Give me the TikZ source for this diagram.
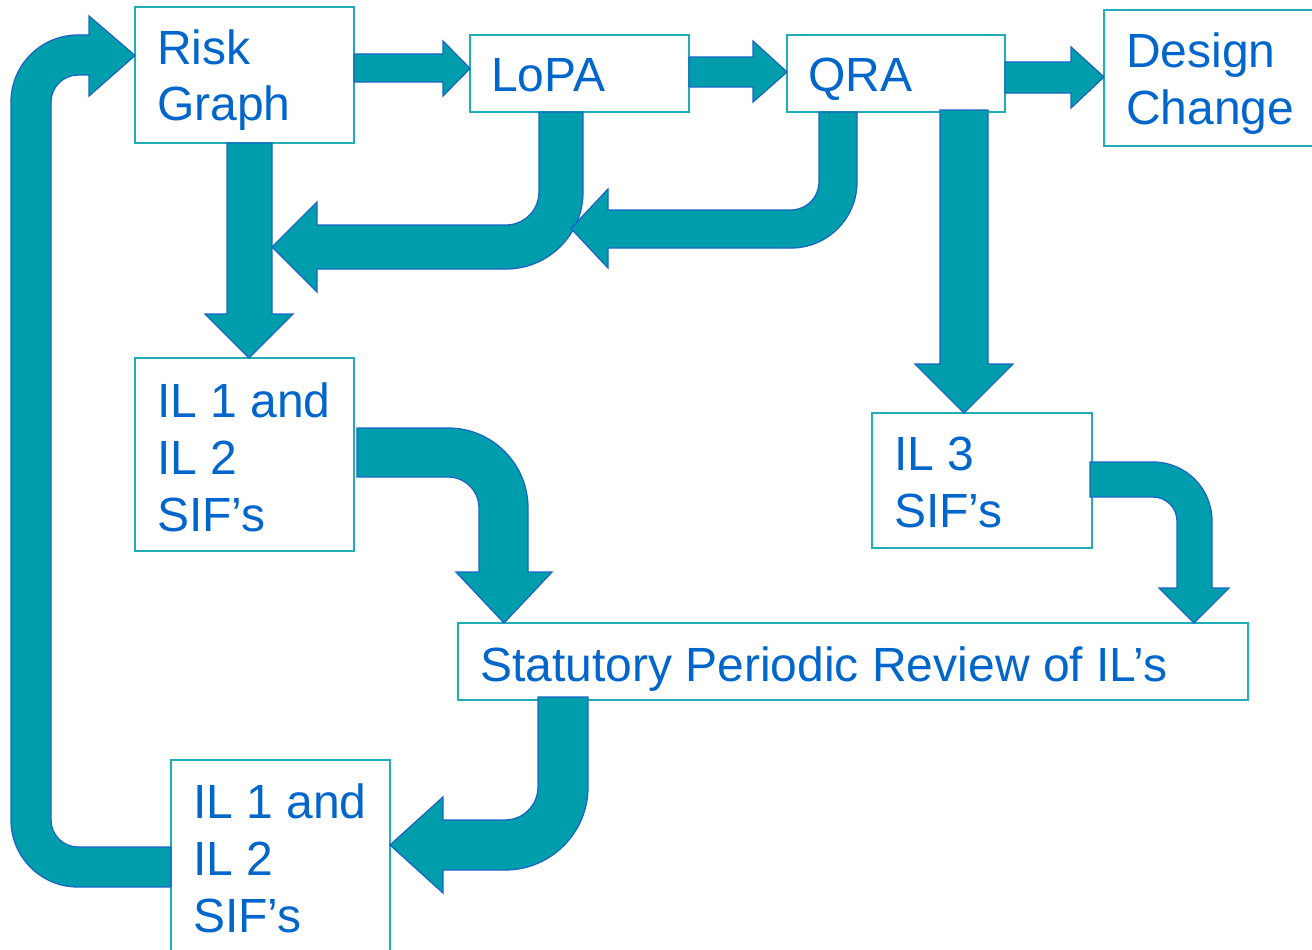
\documentclass[tikz,border=0pt]{standalone}
\usepackage{fontspec}
\setmainfont{Liberation Sans}
\usetikzlibrary{calc}
\definecolor{flowteal}{HTML}{009EAD}
\definecolor{edgeblue}{HTML}{1A66C4}
\definecolor{textblue}{HTML}{0066CC}
\definecolor{boxteal}{HTML}{1FAEB8}
\tikzset{
  stage/.style={draw=boxteal, line width=1.4pt, fill=white, inner sep=0pt, outer sep=0pt, anchor=north west},
  stagetext/.style={text=textblue, font=\fontsize{48}{57}\selectfont, align=left, inner sep=0pt, anchor=base west},
  blockarrow/.style={fill=flowteal, draw=edgeblue, line width=1.3pt, line join=miter},
}
\begin{document}
\begin{tikzpicture}[x=1pt,y=1pt,yscale=-1]
\useasboundingbox (0,0) rectangle (1312,950);
\clip (0,0) rectangle (1312,950);

% stage boxes
\node[stage, minimum width=219pt, minimum height=136pt] (risk)   at (135,7)   {};
\node[stage, minimum width=219pt, minimum height=77pt]  (lopa)   at (470,35)  {};
\node[stage, minimum width=218pt, minimum height=77pt]  (qra)    at (787,35)  {};
\node[stage, minimum width=230pt, minimum height=136pt] (design) at (1104,10)  {};
\node[stage, minimum width=219pt, minimum height=193pt] (ilA)    at (135,358) {};
\node[stage, minimum width=220pt, minimum height=135pt] (ilC)    at (872,413) {};
\node[stage, minimum width=790pt, minimum height=77pt]  (review) at (458,623) {};
\node[stage, minimum width=219pt, minimum height=210pt] (ilB)    at (171,760) {};

% box labels (anchored at the baseline of their last line)
\node[stagetext] (risktxt)   at ($(risk.north west)+(22,114)$)   {Risk\\Graph};
\node[stagetext] (lopatxt)   at ($(lopa.north west)+(21,57)$)    {LoPA};
\node[stagetext] (qratxt)    at ($(qra.north west)+(21,57)$)     {QRA};
\node[stagetext] (designtxt) at ($(design.north west)+(22,114)$) {Design\\Change};
\node[stagetext] (ilAtxt)    at ($(ilA.north west)+(22,173)$)    {IL 1 and\\IL 2\\SIF’s};
\node[stagetext] (ilCtxt)    at ($(ilC.north west)+(22,114)$)    {IL 3\\SIF’s};
\node[stagetext] (reviewtxt) at ($(review.north west)+(22,58)$)  {Statutory Periodic Review of IL’s};
\node[stagetext] (ilBtxt)    at ($(ilB.north west)+(22,172)$)    {IL 1 and\\IL 2\\SIF’s};

% Risk Graph -> LoPA
\path[blockarrow] (risk.east |- 0,54) -- (443,54) -- (443,41) -- (lopa.west |- 0,68.5)
  -- (443,96) -- (443,82) -- (risk.east |- 0,82) -- cycle;
% LoPA -> QRA
\path[blockarrow] (lopa.east |- 0,57) -- (753,57) -- (753,41) -- (qra.west |- 0,72)
  -- (753,102) -- (753,87) -- (lopa.east |- 0,87) -- cycle;
% QRA -> Design Change
\path[blockarrow] (qra.east |- 0,62) -- (1071,62) -- (1071,47) -- (design.west |- 0,77)
  -- (1071,108) -- (1071,93) -- (qra.east |- 0,93) -- cycle;
% Risk Graph -> IL 1 and IL 2
\path[blockarrow] (227,0 |- risk.south) -- (227,314) -- (205,314) -- (249,0 |- ilA.north)
  -- (293,314) -- (272,314) -- (272,0 |- risk.south) -- cycle;
% LoPA -> down and back left
\path[blockarrow] (539,0 |- lopa.south) -- (539,192) arc(0:90:33pt) -- (317,225) -- (317,202)
  -- (272,247) -- (317,292) -- (317,269) -- (506,269) arc(90:0:77pt) -- (583,0 |- lopa.south) -- cycle;
% QRA -> down and back left
\path[blockarrow] (819,0 |- qra.south) -- (819,182) arc(0:90:28pt) -- (608,210) -- (608,189)
  -- (571,228.5) -- (608,268) -- (608,248) -- (791,248) arc(90:0:66pt) -- (857,0 |- qra.south) -- cycle;
% QRA -> IL 3
\path[blockarrow] (940,110) -- (940,364) -- (915,364) -- (964,0 |- ilC.north)
  -- (1013,364) -- (988,364) -- (988,110) -- cycle;
% IL 1 and IL 2 -> review
\path[blockarrow] (357,428) -- (448,428) arc(-90:0:80pt) -- (528,572) -- (552,572)
  -- (504,0 |- review.north) -- (456,572) -- (479,572) -- (479,508) arc(0:-90:31pt) -- (357,477) -- cycle;
% IL 3 -> review
\path[blockarrow] (1090,462) -- (1153,462) arc(-90:0:59pt) -- (1212,588) -- (1229,588)
  -- (1194,0 |- review.north) -- (1159,588) -- (1177,588) -- (1177,521) arc(0:-90:24pt) -- (1090,497) -- cycle;
% review -> IL 1 and IL 2
\path[blockarrow] (538,697) -- (538,787) arc(0:90:33pt) -- (443,820) -- (443,797)
  -- (ilB.east |- 0,845) -- (443,893) -- (443,870) -- (505,870) arc(90:0:83pt) -- (588,697) -- cycle;
% IL 1 and IL 2 -> back to Risk Graph
\path[blockarrow] (ilB.west |- 0,847) -- (78,847) arc(90:180:27pt) -- (51,102) arc(180:270:27pt)
  -- (89,75) -- (89,96) -- (risk.west |- 0,55.5) -- (89,16) -- (89,35) -- (78,35)
  arc(270:180:67pt) -- (11,820) arc(180:90:67pt) -- (ilB.west |- 0,887) -- cycle;
\end{tikzpicture}
\end{document}
